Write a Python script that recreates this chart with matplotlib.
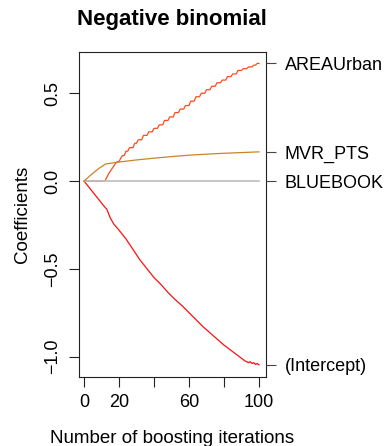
import numpy as np
import matplotlib
matplotlib.use('Agg')
import matplotlib.pyplot as plt

plt.rcParams['font.family'] = ['Liberation Sans', 'DejaVu Sans']

# coefficient paths as (iteration, value)
intercept_iter = [0, 4, 8, 12, 13, 15, 17, 20, 24, 28, 32, 36, 40, 44, 48, 52, 56,
                  60, 64, 68, 72, 76, 80, 84, 88, 92, 94, 95, 96, 97, 98, 99, 100]
intercept_val = [0.0, -0.05, -0.10, -0.15, -0.16, -0.21, -0.245, -0.28, -0.33, -0.39,
                 -0.45, -0.50, -0.55, -0.59, -0.635, -0.675, -0.71, -0.75, -0.79,
                 -0.83, -0.865, -0.90, -0.935, -0.965, -0.995, -1.025, -1.035, -1.03,
                 -1.04, -1.035, -1.045, -1.04, -1.048]

# AREAUrban: iterations at which it was updated and the value after each update
area_iter = [0, 13, 14, 15, 16, 17, 18, 19, 21, 22, 24, 26, 29, 31, 34, 37, 40, 43,
             46, 49, 52, 55, 58, 61, 64, 67, 70, 73, 76, 79, 82, 85, 88, 91, 94, 97,
             99]
area_val = [0.0, 0.02, 0.04, 0.055, 0.07, 0.085, 0.10, 0.11, 0.13, 0.145, 0.17, 0.19,
            0.215, 0.235, 0.26, 0.28, 0.30, 0.32, 0.345, 0.365, 0.39, 0.41, 0.43,
            0.455, 0.48, 0.50, 0.52, 0.54, 0.56, 0.575, 0.595, 0.61, 0.63, 0.64,
            0.65, 0.66, 0.67]

bluebook_iter = [0, 100]
bluebook_val = [0.0, 0.0]

mvr_iter = [0, 4, 8, 12, 13, 20, 30, 40, 50, 60, 70, 80, 90, 100]
mvr_val = [0.0, 0.035, 0.068, 0.095, 0.098, 0.108, 0.12, 0.13, 0.139, 0.147,
           0.153, 0.158, 0.162, 0.166]

names = ['(Intercept)', 'AREAUrban', 'BLUEBOOK', 'MVR_PTS']
colors = ['#FF1010', '#FF4A1C', '#BEBEBE', '#C4862C']

x_ticks = [0, 20, 40, 60, 80, 100]
x_ticklabels = ['0', '20', '', '60', '', '100']
y_ticks = [-1.0, -0.5, 0.0, 0.5]

# each update of AREAUrban is drawn as a one-iteration ramp, flat in between
ax_x, ax_y = [area_iter[0]], [area_val[0]]
for i in range(1, len(area_iter)):
    ax_x += [area_iter[i] - 1, area_iter[i]]
    ax_y += [area_val[i - 1], area_val[i]]
ax_x.append(100)
ax_y.append(area_val[-1])

fig = plt.figure(figsize=(3.9, 4.46), dpi=100)
ax = fig.add_axes([0.2019, 0.1554, 0.4801, 0.728])

ax.plot(intercept_iter, intercept_val, color=colors[0], lw=0.9)
ax.plot(ax_x, ax_y, color=colors[1], lw=0.9)
ax.plot(bluebook_iter, bluebook_val, color=colors[2], lw=1.2)
ax.plot(mvr_iter, mvr_val, color=colors[3], lw=0.9)

ax.set_xlim(-3, 104)
ax.set_ylim(-1.115, 0.735)

for s in ax.spines.values():
    s.set_linewidth(0.8)
    s.set_color('#222222')

ax.set_xticks(x_ticks)
ax.set_xticklabels(x_ticklabels)
ax.set_yticks(y_ticks)
ax.tick_params(axis='both', direction='out', length=7, width=0.8,
               color='#222222', labelsize=13, pad=5.5)
for lab in ax.get_yticklabels():
    lab.set_rotation(90)
    lab.set_va('center')

ax.set_xlabel('Number of boosting iterations', fontsize=13.5, va='baseline')
ax.xaxis.set_label_coords(0.5, -0.2046)
ax.set_ylabel('Coefficients', fontsize=13.5, va='center')
ax.yaxis.set_label_coords(-0.303, 0.5)

# right-hand labels at the final value of each path
finals = [intercept_val[-1], area_val[-1], bluebook_val[-1], mvr_val[-1]]
ax2 = ax.twinx()
ax2.set_ylim(ax.get_ylim())
ax2.set_yticks(finals)
ax2.set_yticklabels(names)
ax2.tick_params(axis='y', direction='out', length=7, width=0.8,
                color='#444444', labelsize=13, pad=6.5)
for s in ax2.spines.values():
    s.set_visible(False)

fig.text(0.5 * (0.2019 * 2 + 0.4801), 1 - 25 / 446, 'Negative binomial',
         ha='center', va='baseline', fontsize=16, fontweight='bold')

fig.savefig('out.png', dpi=100)
